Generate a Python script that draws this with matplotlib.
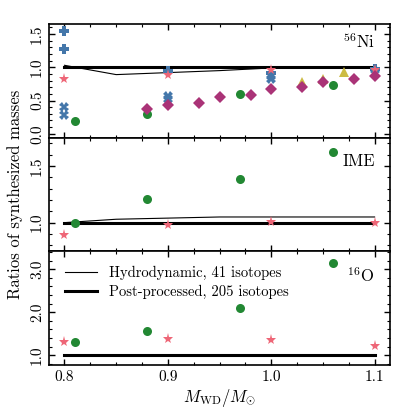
import matplotlib
matplotlib.use("Agg")
import matplotlib.pyplot as plt
from matplotlib.ticker import MultipleLocator, FormatStrFormatter

plt.rcParams['font.family'] = 'serif'
plt.rcParams['font.serif'] = ['cmr10', 'DejaVu Serif']
plt.rcParams['mathtext.fontset'] = 'cm'
plt.rcParams['axes.formatter.use_mathtext'] = True

# model masses
hydro_x = [0.8, 0.85, 0.9, 0.95, 1.0, 1.05, 1.1]
hydro_ni = [1.03, 0.89, 0.92, 0.95, 0.99, 1.0, 1.0]
hydro_ime = [1.0, 1.03, 1.04, 1.05, 1.05, 1.05, 1.05]
hydro_o = [1.0, 1.0, 1.0, 1.0, 1.0, 1.0, 1.0]
post_x = [0.8, 1.1]
post_y = [1.0, 1.0]

# literature comparisons
plus_x = [0.8, 0.8, 0.9, 1.0, 1.1]
plus_ni = [1.55, 1.27, 0.94, 0.92, 0.98]
cross_x = [0.8, 0.8, 0.9, 0.9, 1.0, 1.0, 1.1]
cross_ni = [0.40, 0.28, 0.57, 0.52, 0.87, 0.82, 0.90]
star_x = [0.8, 0.9, 1.0, 1.1]
star_ni = [0.82, 0.88, 0.96, 0.96]
star_ime = [0.89, 0.98, 1.01, 1.0]
star_o = [1.30, 1.37, 1.36, 1.21]
circ_x = [0.81, 0.88, 0.97, 1.06]
circ_ni = [0.19, 0.30, 0.60, 0.74]
circ_ime = [1.0, 1.21, 1.39, 1.62]
circ_o = [1.31, 1.57, 2.10, 3.14]
tri_x = [1.03, 1.05, 1.07]
tri_ni = [0.78, 0.83, 0.93]
diam_x = [0.88, 0.90, 0.93, 0.95, 0.98, 1.0, 1.03, 1.05, 1.08, 1.10]
diam_ni = [0.38, 0.43, 0.47, 0.55, 0.585, 0.67, 0.70, 0.78, 0.82, 0.87]

blue = '#4477AA'
red = '#EE6677'
green = '#228833'
yellow = '#CCBB44'
purple = '#AA3377'

fig, axs = plt.subplots(3, 1, sharex=True, figsize=(4.15, 4.15), dpi=100)
fig.subplots_adjust(left=0.118, right=0.94, top=0.942, bottom=0.12, hspace=0)

def lines(ax, hy):
    l1, = ax.plot(hydro_x, hy, color='k', lw=0.8, label='Hydrodynamic, 41 isotopes')
    l2, = ax.plot(post_x, post_y, color='k', lw=2.2, label='Post-processed, 205 isotopes')
    return l1, l2

ax = axs[0]
lines(ax, hydro_ni)
ax.plot(plus_x, plus_ni, 'P', color=blue, ms=7, mew=0, ls='none')
ax.plot(cross_x, cross_ni, 'X', color=blue, ms=7, mew=0, ls='none')
ax.plot(star_x, star_ni, '*', color=red, ms=8, mew=0, ls='none')
ax.plot(circ_x, circ_ni, 'o', color=green, ms=6.5, mew=0, ls='none')
ax.plot(tri_x, tri_ni, '^', color=yellow, ms=7.5, mew=0, ls='none')
ax.plot(diam_x, diam_ni, 'D', color=purple, ms=6.5, mew=0, ls='none')
ax.set_ylim(-0.06, 1.65)
ax.yaxis.set_major_locator(MultipleLocator(0.5))
ax.yaxis.set_minor_locator(MultipleLocator(0.1))
ax.text(0.955, 0.85, r'$^{56}$Ni', transform=ax.transAxes, ha='right', va='center', fontsize=12)

ax = axs[1]
lines(ax, hydro_ime)
ax.plot(star_x, star_ime, '*', color=red, ms=8, mew=0, ls='none')
ax.plot(circ_x, circ_ime, 'o', color=green, ms=6.5, mew=0, ls='none')
ax.set_ylim(0.745, 1.75)
ax.yaxis.set_major_locator(MultipleLocator(0.5))
ax.yaxis.set_minor_locator(MultipleLocator(0.1))
ax.text(0.955, 0.79, 'IME', transform=ax.transAxes, ha='right', va='center', fontsize=12)

ax = axs[2]
h = lines(ax, hydro_o)
ax.plot(star_x, star_o, '*', color=red, ms=8, mew=0, ls='none')
ax.plot(circ_x, circ_o, 'o', color=green, ms=6.5, mew=0, ls='none')
ax.set_ylim(0.77, 3.41)
ax.yaxis.set_major_locator(MultipleLocator(1.0))
ax.yaxis.set_minor_locator(MultipleLocator(0.2))
ax.text(0.955, 0.79, r'$^{16}$O', transform=ax.transAxes, ha='right', va='center', fontsize=12)
ax.legend(handles=h, loc='upper left', bbox_to_anchor=(0.018, 0.96), frameon=False,
          fontsize=10.5, handlelength=2.2, borderaxespad=0.3, labelspacing=0.3)

for ax in axs:
    ax.set_xlim(0.785, 1.115)
    ax.xaxis.set_major_locator(MultipleLocator(0.1))
    ax.xaxis.set_minor_locator(MultipleLocator(0.025))
    ax.yaxis.set_major_formatter(FormatStrFormatter('%.1f'))
    ax.tick_params(which='both', direction='in', top=True, right=True, labelsize=11)
    ax.tick_params(which='major', length=4, width=1)
    ax.tick_params(which='minor', length=2, width=0.8)
    ax.tick_params(axis='y', labelrotation=90)
    for lab in ax.get_yticklabels():
        lab.set_va('center')
    for s in ax.spines.values():
        s.set_linewidth(1.2)

axs[2].xaxis.set_major_formatter(FormatStrFormatter('%.1f'))
axs[2].set_xlabel(r'$M_{\rm WD}/M_{\odot}$', fontsize=12, labelpad=2)
fig.text(0.036, 0.531, 'Ratios of synthesized masses', rotation=90,
         ha='center', va='center', fontsize=12)

fig.savefig('out.png', dpi=100)
